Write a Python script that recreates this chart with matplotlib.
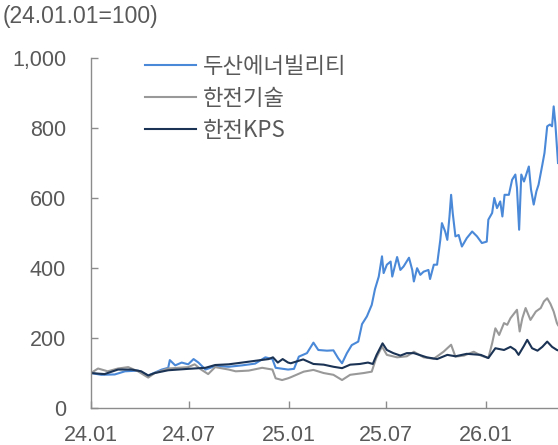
import matplotlib
matplotlib.use("Agg")
import matplotlib.pyplot as plt
import matplotlib.dates as mdates
import matplotlib.ticker as mticker
import pandas as pd

plt.rcParams["font.family"] = ["Liberation Sans", "Noto Sans CJK KR", "DejaVu Sans"]

# ── 데이터 (24.01.01=100) ──────────────────────────────────────────────
doosan_dates = [
    "2024-01-01", "2024-01-20", "2024-02-14", "2024-03-04", "2024-03-28", "2024-04-16",
    "2024-05-11", "2024-05-23", "2024-05-26", "2024-06-05", "2024-06-17", "2024-06-29",
    "2024-07-09", "2024-07-18", "2024-07-31", "2024-08-18", "2024-09-12", "2024-10-07",
    "2024-10-31", "2024-11-19", "2024-12-02", "2024-12-08", "2024-12-31",
    "2025-01-11", "2025-01-20", "2025-02-04", "2025-02-16", "2025-02-25", "2025-03-13",
    "2025-03-25", "2025-04-03", "2025-04-10", "2025-04-19", "2025-04-28", "2025-05-10",
    "2025-05-17", "2025-05-26", "2025-06-04", "2025-06-10", "2025-06-17", "2025-06-23",
    "2025-06-26", "2025-07-02", "2025-07-09", "2025-07-12", "2025-07-21", "2025-07-27",
    "2025-08-02", "2025-08-12", "2025-08-18", "2025-08-21", "2025-08-27", "2025-09-02",
    "2025-09-08", "2025-09-17", "2025-09-20", "2025-09-27", "2025-10-03", "2025-10-09",
    "2025-10-12", "2025-10-18", "2025-10-22", "2025-10-26", "2025-10-29", "2025-11-01",
    "2025-11-06", "2025-11-12", "2025-11-18", "2025-11-27", "2025-12-07", "2025-12-16",
    "2025-12-25", "2026-01-03", "2026-01-06", "2026-01-13", "2026-01-17", "2026-01-22",
    "2026-01-28", "2026-02-01", "2026-02-05", "2026-02-13", "2026-02-19", "2026-02-25",
    "2026-02-28", "2026-03-04", "2026-03-08", "2026-03-13", "2026-03-18", "2026-03-22",
    "2026-03-26", "2026-03-31", "2026-04-05", "2026-04-09", "2026-04-16", "2026-04-20",
    "2026-04-25", "2026-04-30", "2026-05-04", "2026-05-07", "2026-05-10", "2026-05-15",
]
doosan = [
    100, 95, 96, 105, 107, 93,
    110, 115, 137, 122, 130, 125,
    140, 130, 110, 120, 118, 122,
    127, 145, 140, 115, 110,
    112, 147, 157, 187, 166, 164,
    165, 142, 128, 157, 180, 190,
    240, 262, 295, 340, 376, 434,
    386, 410, 419, 376, 432, 395,
    405, 430, 395, 362, 400, 381,
    390, 395, 369, 410, 410, 481,
    529, 505, 481, 548, 610, 558,
    491, 495, 462, 486, 505, 491,
    472, 476, 539, 558, 601, 572,
    591, 548, 610, 610, 653, 668,
    630, 510, 668, 648, 672, 691,
    625, 582, 620, 639, 696, 730,
    806, 811, 806, 863, 816, 701,
]

kepco_enc_dates = [
    "2024-01-01", "2024-01-14", "2024-02-01", "2024-02-20", "2024-03-10", "2024-03-28",
    "2024-04-16", "2024-04-28", "2024-05-23", "2024-06-29", "2024-07-11", "2024-07-23",
    "2024-08-05", "2024-08-18", "2024-09-12", "2024-09-25", "2024-10-19", "2024-11-13",
    "2024-12-02", "2024-12-08", "2024-12-20", "2024-12-31",
    "2025-01-05", "2025-01-29", "2025-02-16", "2025-03-07", "2025-03-25", "2025-04-10",
    "2025-04-25", "2025-05-20", "2025-06-04", "2025-06-12", "2025-06-23", "2025-07-02",
    "2025-07-21", "2025-08-08", "2025-08-21", "2025-09-08", "2025-09-27", "2025-10-15",
    "2025-10-29", "2025-11-06", "2025-11-22", "2025-12-10", "2025-12-23",
    "2026-01-06", "2026-01-13", "2026-01-19", "2026-01-26", "2026-02-04", "2026-02-10",
    "2026-02-16", "2026-02-28", "2026-03-05", "2026-03-10", "2026-03-16", "2026-03-25",
    "2026-04-04", "2026-04-13", "2026-04-19", "2026-04-25", "2026-05-01", "2026-05-07",
    "2026-05-13", "2026-05-15",
]
kepco_enc = [
    100, 113, 105, 113, 117, 105,
    87, 100, 113, 117, 125, 110,
    97, 117, 110, 105, 107, 115,
    110, 85, 80, 85,
    88, 104, 109, 100, 95, 80,
    95, 100, 104, 142, 176, 152,
    145, 148, 161, 145, 141, 161,
    181, 147, 150, 161, 150,
    143, 185, 228, 209, 243, 238,
    257, 281, 219, 257, 286, 252,
    276, 286, 305, 314, 298, 276,
    243, 237,
]

kps_dates = [
    "2024-01-01", "2024-01-26", "2024-02-20", "2024-03-16", "2024-04-03", "2024-04-16",
    "2024-04-28", "2024-05-23", "2024-06-29", "2024-07-31", "2024-08-18", "2024-09-12",
    "2024-10-07", "2024-10-31", "2024-11-25", "2024-12-03", "2024-12-12", "2024-12-21",
    "2024-12-31",
    "2025-01-05", "2025-01-28", "2025-02-16", "2025-03-07", "2025-03-25", "2025-04-10",
    "2025-04-25", "2025-05-13", "2025-05-28", "2025-06-06", "2025-06-13", "2025-06-24",
    "2025-07-02", "2025-07-14", "2025-07-27", "2025-08-08", "2025-08-21", "2025-09-14",
    "2025-10-03", "2025-10-22", "2025-11-06", "2025-11-27", "2025-12-23",
    "2026-01-06", "2026-01-19", "2026-02-04", "2026-02-16", "2026-02-25", "2026-03-03",
    "2026-03-13", "2026-03-19", "2026-03-28", "2026-04-07", "2026-04-16", "2026-04-25",
    "2026-05-04", "2026-05-13", "2026-05-15",
]
kps = [
    100, 97, 110, 110, 105, 93,
    100, 108, 112, 115, 123, 125,
    130, 135, 140, 145, 130, 140,
    130,
    128, 139, 126, 124, 118, 114,
    124, 126, 130, 126, 152, 185,
    166, 157, 150, 157, 157, 145,
    140, 152, 148, 155, 152,
    143, 171, 166, 175, 166, 152,
    178, 195, 171, 164, 175, 190,
    175, 166, 165,
]

series_names = ["두산에너빌리티", "한전기술", "한전KPS"]
series_colors = ["#4a88d8", "#999999", "#1b3354"]
y_ticks = [0, 200, 400, 600, 800, 1000]
x_ticks = ["2024-01-01", "2024-07-01", "2025-01-01", "2025-07-01", "2026-01-01"]

TEXT = "#595959"
AXIS = "#8c8c8c"

# ── 그래프 ─────────────────────────────────────────────────────────────
fig = plt.figure(figsize=(5.58, 4.45), dpi=100)
ax = fig.add_axes([91 / 558, 1 - 408 / 445, 1 - 91 / 558, (408 - 58.5) / 445])

all_series = [(doosan_dates, doosan), (kepco_enc_dates, kepco_enc), (kps_dates, kps)]
for (d, v), name, color in zip(all_series, series_names, series_colors):
    ax.plot(pd.to_datetime(d), v, color=color, linewidth=1.5, label=name)

ax.set_ylim(0, 1000)
ax.set_xlim(pd.Timestamp("2024-01-01"), pd.Timestamp("2026-05-15"))
ax.set_yticks(y_ticks)
ax.yaxis.set_major_formatter(mticker.FuncFormatter(lambda v, _: f"{v:,.0f}"))
ax.set_xticks(pd.to_datetime(x_ticks))
ax.xaxis.set_major_formatter(mdates.DateFormatter("%y.%m"))

for side in ["top", "right"]:
    ax.spines[side].set_visible(False)
for side in ["left", "bottom"]:
    ax.spines[side].set_color(AXIS)
    ax.spines[side].set_linewidth(1.0)
ax.tick_params(direction="in", length=5, width=1, color=AXIS,
               labelcolor=TEXT, labelsize=15.5)
ax.tick_params(axis="x", pad=12)
ax.tick_params(axis="y", pad=18)

ax.legend(loc="upper left", bbox_to_anchor=(145 / 558, 1 - 55 / 445),
          bbox_transform=fig.transFigure, frameon=False,
          prop={"family": ["Noto Sans CJK KR", "DejaVu Sans"], "size": 16},
          handlelength=2.3, handletextpad=0.3, labelspacing=0.4,
          labelcolor=TEXT, borderaxespad=0, borderpad=0)

fig.text(3 / 558, 1 - 16 / 445, "(24.01.01=100)", color=TEXT,
         fontsize=16.5, va="center", ha="left")

fig.savefig("out.png", dpi=100)
